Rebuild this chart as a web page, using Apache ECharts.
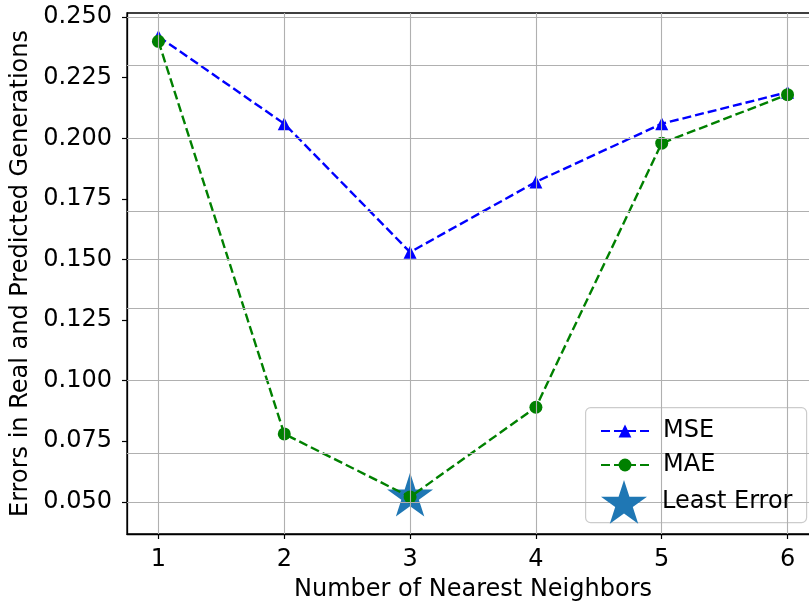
<!DOCTYPE html>
<html>
<head>
<meta charset="utf-8">
<script src="https://cdn.jsdelivr.net/npm/echarts@6/dist/echarts.min.js"></script>
<style>
html,body{margin:0;padding:0;background:#fff;}
#chart{width:809px;height:608px;}
</style>
</head>
<body>
<div id="chart"></div>
<script>
const kValues = [1, 2, 3, 4, 5, 6];
const mseValues = [0.242, 0.206, 0.153, 0.182, 0.206, 0.219];
const maeValues = [0.240, 0.078, 0.052, 0.089, 0.198, 0.218];
const leastErrorK = [3];
const leastErrorValue = [0.052];
const yTicks = [0.050, 0.075, 0.100, 0.125, 0.150, 0.175, 0.200, 0.225, 0.250];
const xTicks = [1, 2, 3, 4, 5, 6];

const STAR = 'path://M0 -100 L22.45 -30.9 L95.11 -30.9 L36.33 11.8 L58.78 80.9 L0 38.2 L-58.78 80.9 L-36.33 11.8 L-95.11 -30.9 L-22.45 -30.9 Z';
const FONT = 'DejaVu Sans';

const chart = echarts.init(document.getElementById('chart'), null, {renderer: 'canvas'});

const gridLines = [];
yTicks.forEach(v => gridLines.push({yAxis: v}));
xTicks.forEach(v => gridLines.push({xAxis: v}));

const option = {
  animation: false,
  backgroundColor: '#ffffff',
  textStyle: {fontFamily: FONT},
  grid: {
    left: 127, top: 13, height: 521, width: 692,
    outerBoundsMode: 'none', containLabel: false,
    show: true, borderColor: '#000', borderWidth: 1.3, backgroundColor: 'transparent'
  },
  xAxis: {
    type: 'value', min: 0.75, max: 6.25,
    name: 'Number of Nearest Neighbors', nameLocation: 'middle', nameGap: 44,
    nameTextStyle: {fontSize: 24, color: '#000', fontFamily: FONT},
    axisLine: {show: true, onZero: false, lineStyle: {color: '#000', width: 1.3}},
    axisTick: {show: true, length: 5, lineStyle: {color: '#000', width: 1.2}, customValues: xTicks},
    axisLabel: {fontSize: 24, color: '#000', margin: 14, fontFamily: FONT, customValues: xTicks,
      formatter: v => String(v)},
    splitLine: {show: false}
  },
  yAxis: {
    type: 'value', min: 0.0367, max: 0.2517,
    name: 'Errors in Real and Predicted Generations', nameLocation: 'middle', nameGap: 84, nameRotate: 90,
    nameTextStyle: {fontSize: 24, color: '#000', fontFamily: FONT},
    axisLine: {show: true, onZero: false, lineStyle: {color: '#000', width: 1.3}},
    axisTick: {show: true, length: 5, lineStyle: {color: '#000', width: 1.2}, customValues: yTicks},
    axisLabel: {fontSize: 24, color: '#000', margin: 15, fontFamily: FONT, customValues: yTicks,
      formatter: v => v.toFixed(3)},
    splitLine: {show: false}
  },
  legend: [
    {
      data: ['MSE', 'MAE'], orient: 'vertical', left: 595, top: 414,
      itemWidth: 48, itemHeight: 16, itemGap: 10,
      textStyle: {fontSize: 24, color: '#000', fontFamily: FONT, padding: [0, 0, 0, 9]},
      z: 10
    },
    {
      data: [{name: 'Least Error', icon: STAR, itemStyle: {color: '#1f77b4', opacity: 1}}], orient: 'vertical', left: 596, top: 475,
      itemWidth: 46, itemHeight: 44,
      textStyle: {fontSize: 24, color: '#000', fontFamily: FONT, padding: [0, 0, 0, 10]},
      z: 10
    }
  ],
  graphic: [{
    type: 'rect', left: 585, top: 407, z: 5,
    shape: {width: 221, height: 115, r: 5},
    style: {fill: 'rgba(255,255,255,0.8)', stroke: '#cccccc', lineWidth: 1.2}
  }],
  series: [
    {
      name: 'grid', type: 'line', data: [], z: 0, silent: true,
      markLine: {
        silent: true, symbol: 'none', label: {show: false},
        lineStyle: {color: '#b0b0b0', width: 1.1, type: 'solid'},
        emphasis: {disabled: true},
        data: gridLines
      }
    },
    {
      name: 'Least Error', type: 'scatter', z: 1,
      symbol: STAR, symbolSize: [46, 44], symbolOffset: [0, -2.3],
      itemStyle: {color: '#1f77b4', opacity: 1},
      data: leastErrorK.map((k, i) => [k, leastErrorValue[i]])
    },
    {
      name: 'MSE', type: 'line', z: 2,
      symbol: 'triangle', symbolSize: 13, showAllSymbol: true,
      lineStyle: {color: '#0000ff', width: 2.4, type: [9, 4]},
      itemStyle: {color: '#0000ff'},
      data: kValues.map((k, i) => [k, mseValues[i]])
    },
    {
      name: 'MAE', type: 'line', z: 3,
      symbol: 'circle', symbolSize: 13, showAllSymbol: true,
      lineStyle: {color: '#008000', width: 2.4, type: [9, 4]},
      itemStyle: {color: '#008000'},
      data: kValues.map((k, i) => [k, maeValues[i]])
    }
  ]
};
chart.setOption(option);
</script>
</body>
</html>
